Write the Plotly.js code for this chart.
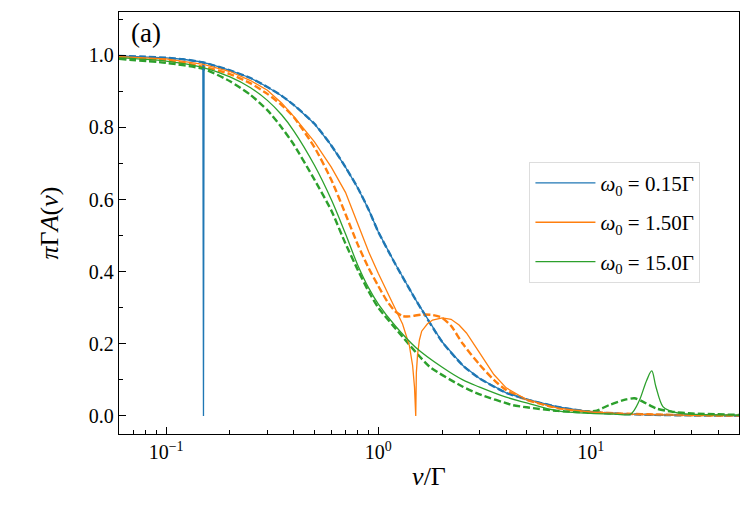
<!DOCTYPE html>
<html>
<head>
<meta charset="utf-8">
<script src="https://cdn.plot.ly/plotly-3.0.1.min.js"></script>
<style>
  html, body { margin: 0; padding: 0; background: #ffffff; }
  #chart { width: 747px; height: 511px; }
</style>
</head>
<body>
<div id="chart"></div>
<script>
const FONT_FAMILY = "Liberation Serif";
const COLORS = { blue: "#1f77b4", orange: "#ff7f0e", green: "#2ca02c" };

// omega0 = 0.15 Gamma
const blueX = [0.06, 0.08, 0.1, 0.12, 0.14, 0.149, 0.15, 0.151, 0.16, 0.2, 0.25, 0.3, 0.35, 0.4, 0.5, 0.6, 0.7, 0.8, 0.9, 1.0, 1.2, 1.5, 2, 2.5, 3, 4, 5, 7, 10, 15, 20, 30, 50];
const blueY = [0.998, 0.996, 0.993, 0.989, 0.983, 0.981, 0.0, 0.979, 0.976, 0.958, 0.937, 0.912, 0.888, 0.862, 0.81, 0.75, 0.69, 0.632, 0.572, 0.51, 0.422, 0.322, 0.205, 0.14, 0.104, 0.064, 0.046, 0.025, 0.011, 0.005, 0.003, 0.0015, 0.0008];
const blueDashX = [0.06, 0.08, 0.1, 0.12, 0.15, 0.2, 0.25, 0.3, 0.35, 0.4, 0.5, 0.6, 0.7, 0.8, 0.9, 1.0, 1.2, 1.5, 2, 2.5, 3, 4, 5, 7, 10, 15, 20, 30, 50];
const blueDashY = [0.998, 0.996, 0.993, 0.989, 0.98, 0.958, 0.937, 0.912, 0.888, 0.862, 0.81, 0.75, 0.69, 0.632, 0.572, 0.51, 0.422, 0.322, 0.205, 0.14, 0.104, 0.064, 0.046, 0.025, 0.011, 0.005, 0.003, 0.0015, 0.0008];

// omega0 = 1.50 Gamma
const orangeX = [0.06, 0.1, 0.15, 0.2, 0.25, 0.3, 0.35, 0.4, 0.5, 0.6, 0.7, 0.8, 0.9, 1.0, 1.1, 1.2, 1.3, 1.4, 1.45, 1.48, 1.5, 1.51, 1.53, 1.56, 1.6, 1.7, 1.8, 2.0, 2.2, 2.4, 2.6, 3.0, 3.5, 4, 5, 7, 10, 15, 20, 30, 50];
const orangeY = [0.996, 0.99, 0.975, 0.955, 0.93, 0.903, 0.868, 0.83, 0.76, 0.69, 0.62, 0.53, 0.455, 0.395, 0.345, 0.3, 0.255, 0.195, 0.14, 0.08, 0.0, 0.12, 0.17, 0.21, 0.235, 0.255, 0.266, 0.272, 0.268, 0.252, 0.23, 0.175, 0.115, 0.078, 0.045, 0.022, 0.011, 0.005, 0.003, 0.0015, 0.0008];
const orangeDashX = [0.06, 0.1, 0.15, 0.2, 0.25, 0.3, 0.35, 0.4, 0.5, 0.6, 0.7, 0.8, 0.9, 1.0, 1.1, 1.2, 1.3, 1.4, 1.6, 1.8, 2.0, 2.2, 2.5, 3, 3.5, 4, 5, 7, 10, 15, 20, 30, 50];
const orangeDashY = [0.993, 0.986, 0.968, 0.948, 0.922, 0.893, 0.862, 0.828, 0.745, 0.655, 0.56, 0.475, 0.41, 0.36, 0.318, 0.29, 0.277, 0.276, 0.281, 0.28, 0.272, 0.25, 0.2, 0.142, 0.1, 0.072, 0.045, 0.022, 0.011, 0.006, 0.004, 0.002, 0.001];

// omega0 = 15.0 Gamma
const greenX = [0.06, 0.1, 0.15, 0.2, 0.25, 0.3, 0.35, 0.4, 0.5, 0.6, 0.7, 0.8, 0.9, 1.0, 1.2, 1.5, 2, 2.5, 3, 4, 5, 7, 10, 13, 15.3, 16, 17, 18.4, 19.4, 20.3, 21.9, 23.5, 26, 30, 50];
const greenY = [0.993, 0.984, 0.966, 0.94, 0.91, 0.875, 0.835, 0.79, 0.695, 0.6, 0.505, 0.418, 0.355, 0.31, 0.25, 0.19, 0.135, 0.1, 0.08, 0.052, 0.036, 0.014, 0.007, 0.005, 0.004, 0.015, 0.044, 0.1, 0.125, 0.081, 0.026, 0.015, 0.008, 0.005, 0.002];
const greenDashX = [0.06, 0.1, 0.15, 0.2, 0.25, 0.3, 0.35, 0.4, 0.5, 0.6, 0.7, 0.8, 0.9, 1.0, 1.26, 1.74, 2.5, 3, 4.3, 5, 7, 9, 10.7, 12.2, 14.7, 16.1, 17.6, 20.3, 24, 30, 50];
const greenDashY = [0.99, 0.979, 0.962, 0.928, 0.89, 0.848, 0.8, 0.752, 0.655, 0.57, 0.478, 0.405, 0.345, 0.3, 0.229, 0.137, 0.081, 0.06, 0.03, 0.024, 0.014, 0.011, 0.015, 0.03, 0.046, 0.049, 0.04, 0.021, 0.012, 0.007, 0.003];

const xTickVals = [0.1, 1, 10];
const xTickText = ["10<sup>−1</sup>", "10<sup>0</sup>", "10<sup>1</sup>"];
const xMinorVals = [0.06, 0.07, 0.08, 0.09, 0.2, 0.3, 0.4, 0.5, 0.6, 0.7, 0.8, 0.9, 2, 3, 4, 5, 6, 7, 8, 9, 20, 30, 40];
const yTickVals = [0, 0.2, 0.4, 0.6, 0.8, 1.0];
const yTickText = ["0.0", "0.2", "0.4", "0.6", "0.8", "1.0"];
const legendLabels = ["<i>ω</i><sub>0</sub> = 0.15Γ", "<i>ω</i><sub>0</sub> = 1.50Γ", "<i>ω</i><sub>0</sub> = 15.0Γ"];

const DASH = "7px,3px";

function solid(x, y, color, name, shape) {
  return {
    x, y, mode: "lines", name,
    legendgroup: name,
    line: { color, width: 1.3, shape },
    showlegend: true,
    hoverinfo: "skip",
  };
}

function dashed(x, y, color) {
  return {
    x, y, mode: "lines",
    line: { color, width: 2.4, dash: DASH, shape: "spline", smoothing: 0.6 },
    showlegend: false,
    hoverinfo: "skip",
  };
}

// the narrow dips stay sharp, so only the green solid is smoothed
const traces = [
  dashed(blueDashX, blueDashY, COLORS.blue),
  dashed(orangeDashX, orangeDashY, COLORS.orange),
  dashed(greenDashX, greenDashY, COLORS.green),
  solid(blueX, blueY, COLORS.blue, legendLabels[0], "linear"),
  solid(orangeX, orangeY, COLORS.orange, legendLabels[1], "linear"),
  solid(greenX, greenY, COLORS.green, legendLabels[2], "spline"),
];

const layout = {
  width: 747,
  height: 511,
  margin: { l: 119, r: 8, t: 12, b: 77 },
  paper_bgcolor: "#ffffff",
  plot_bgcolor: "#ffffff",
  font: { family: FONT_FAMILY, color: "#000000", size: 20 },
  showlegend: true,
  legend: {
    x: 0.662,
    y: 0.645,
    xanchor: "left",
    yanchor: "top",
    bgcolor: "rgba(255,255,255,0.8)",
    bordercolor: "#dddddd",
    borderwidth: 1,
    font: { family: FONT_FAMILY, size: 21 },
    tracegroupgap: 9,
    itemwidth: 60,
  },
  xaxis: {
    type: "log",
    range: [Math.log10(0.06), Math.log10(50)],
    tickmode: "array",
    tickvals: xTickVals,
    ticktext: xTickText,
    ticks: "inside",
    ticklen: 7,
    tickwidth: 1,
    tickcolor: "#000000",
    minor: { tickmode: "array", tickvals: xMinorVals, ticks: "inside", ticklen: 4, tickcolor: "#000000", showgrid: false },
    showline: true,
    linecolor: "#000000",
    linewidth: 1.2,
    mirror: true,
    showgrid: false,
    zeroline: false,
    tickfont: { family: FONT_FAMILY, size: 20 },
    title: { text: "<i>ν</i>/Γ", font: { family: FONT_FAMILY, size: 26 }, standoff: 4 },
  },
  yaxis: {
    range: [-0.05, 1.12],
    tickmode: "array",
    tickvals: yTickVals,
    ticktext: yTickText,
    ticks: "inside",
    ticklen: 7,
    tickwidth: 1,
    tickcolor: "#000000",
    minor: { dtick: 0.1, ticks: "inside", ticklen: 4, tickcolor: "#000000", showgrid: false },
    showline: true,
    linecolor: "#000000",
    linewidth: 1.2,
    mirror: true,
    showgrid: false,
    zeroline: false,
    tickfont: { family: FONT_FAMILY, size: 20 },
    title: { text: "<i>π</i>Γ<i>A</i>(<i>ν</i>)", font: { family: FONT_FAMILY, size: 26 }, standoff: 22 },
  },
  annotations: [
    {
      text: "(a)",
      xref: "paper", yref: "paper",
      x: 0.016, y: 0.99,
      xanchor: "left", yanchor: "top",
      showarrow: false,
      font: { family: FONT_FAMILY, size: 27 },
    },
  ],
};

Plotly.newPlot("chart", traces, layout, { displayModeBar: false, staticPlot: true });
</script>
</body>
</html>
